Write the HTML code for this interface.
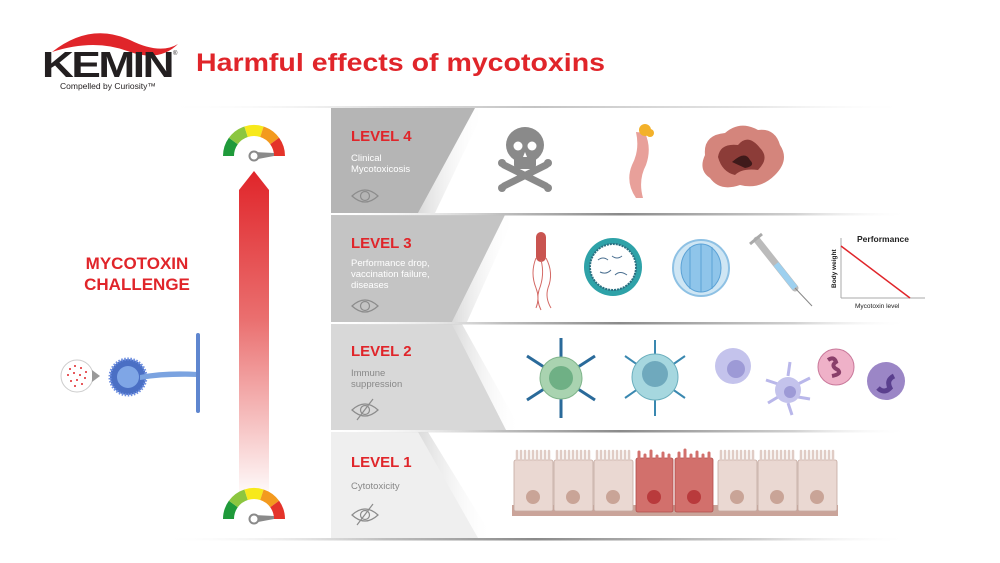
<!DOCTYPE html>
<html><head><meta charset="utf-8"><style>
html,body{margin:0;padding:0;background:#fff;}
svg{display:block;font-family:"Liberation Sans",sans-serif;}
</style></head><body>
<svg width="1000" height="563" viewBox="0 0 1000 563" xmlns="http://www.w3.org/2000/svg">
<defs>
<linearGradient id="arr" x1="0" y1="0" x2="0" y2="1">
<stop offset="0" stop-color="#e0252a"/><stop offset="0.45" stop-color="#ea6f6f"/><stop offset="1" stop-color="#ffffff"/>
</linearGradient>
<linearGradient id="sep" x1="0" y1="0" x2="1" y2="0">
<stop offset="0" stop-color="#fff" stop-opacity="0"/><stop offset="0.3" stop-color="#bdbdbd"/><stop offset="0.5" stop-color="#8a8a8a"/><stop offset="0.8" stop-color="#d0d0d0"/><stop offset="1" stop-color="#fff" stop-opacity="0"/>
</linearGradient>
<linearGradient id="sh" x1="0" y1="0" x2="1" y2="0">
<stop offset="0" stop-color="#999" stop-opacity="0.6"/><stop offset="1" stop-color="#fff" stop-opacity="0"/>
</linearGradient>
<g id="gauge">
<path d="M-31,0 A31,31 0 0 1 -25.1,-18.2 L-16.2,-11.8 A20,20 0 0 0 -20,0Z" fill="#1f9a3a"/>
<path d="M-25.1,-18.2 A31,31 0 0 1 -9.6,-29.5 L-6.2,-19 A20,20 0 0 0 -16.2,-11.8Z" fill="#8cc63f"/>
<path d="M-9.6,-29.5 A31,31 0 0 1 9.6,-29.5 L6.2,-19 A20,20 0 0 0 -6.2,-19Z" fill="#f7e91b"/>
<path d="M9.6,-29.5 A31,31 0 0 1 25.1,-18.2 L16.2,-11.8 A20,20 0 0 0 6.2,-19Z" fill="#f39a1e"/>
<path d="M25.1,-18.2 A31,31 0 0 1 31,0 L20,0 A20,20 0 0 0 16.2,-11.8Z" fill="#e4332a"/>
<path d="M-1,-4 L20,-3 L20,0 L-1,4Z" fill="#8a8a8a"/>
<circle cx="0" cy="0" r="4.5" fill="#fff" stroke="#8a8a8a" stroke-width="2"/>
</g>
<g id="eye"><path d="M-13,0 Q0,-12 13,0 Q0,12 -13,0Z" fill="none" stroke="#8c8c8c" stroke-width="1.2"/><circle r="4.5" fill="none" stroke="#8c8c8c" stroke-width="1.2"/></g>
</defs>

<path d="M52,52 Q90,22 130,40 Q160,55 178,44 Q160,62 130,52 Q95,38 52,52Z" fill="#e0252a"/>
<text x="42" y="77" font-size="36" font-weight="bold" fill="#231f20" letter-spacing="-2" textLength="130" lengthAdjust="spacingAndGlyphs">KEMIN</text>
<text x="173" y="55" font-size="6" fill="#231f20">®</text>
<text x="60" y="89" font-size="8.5" fill="#231f20">Compelled by Curiosity™</text>
<text x="196" y="71" font-size="25" font-weight="bold" fill="#e0252a" textLength="409" lengthAdjust="spacingAndGlyphs">Harmful effects of mycotoxins</text>

<rect x="331" y="108" width="560" height="430" fill="#fff"/>
<polygon points="331,108 475,108 418,213 331,213" fill="#b5b5b5"/>
<polygon points="331,215 505,215 452,322 331,322" fill="#c4c4c4"/>
<polygon points="331,324 452,324 506,430 331,430" fill="#d8d8d8"/>
<polygon points="331,432 418,432 478,538 331,538" fill="#efefef"/>
<polygon points="418,213 475,108 485,108 435,213" fill="url(#sh)" opacity="0.6"/>
<polygon points="452,322 505,215 515,215 467,322" fill="url(#sh)" opacity="0.6"/>
<polygon points="506,430 452,324 462,324 521,430" fill="url(#sh)" opacity="0.6"/>
<polygon points="478,538 418,432 428,432 493,538" fill="url(#sh)" opacity="0.6"/>

<rect x="160" y="106" width="750" height="2" fill="url(#sep)" opacity="0.5"/>
<rect x="330" y="213" width="580" height="2.5" fill="url(#sep)"/>
<rect x="330" y="322" width="580" height="2.5" fill="url(#sep)"/>
<rect x="330" y="430" width="580" height="2.5" fill="url(#sep)"/>
<rect x="160" y="538" width="750" height="2.5" fill="url(#sep)"/>

<path d="M254,171 L269,190 L269,500 L239,500 L239,190Z" fill="url(#arr)"/>
<use href="#gauge" x="254" y="156"/>
<use href="#gauge" x="254" y="519"/>

<text x="137" y="269" font-size="17" font-weight="bold" fill="#e0252a" text-anchor="middle">MYCOTOXIN</text>
<text x="137" y="290" font-size="17" font-weight="bold" fill="#e0252a" text-anchor="middle">CHALLENGE</text>

<circle cx="77" cy="376" r="16" fill="#fff" stroke="#ccc" stroke-width="1"/>
<polygon points="92,370 100,376 92,382" fill="#999"/>
<g fill="#e0252a">
<circle cx="70" cy="369" r="1"/><circle cx="75" cy="366" r="1"/><circle cx="81" cy="368" r="1"/><circle cx="86" cy="372" r="1"/><circle cx="68" cy="375" r="1"/><circle cx="74" cy="373" r="1"/><circle cx="80" cy="375" r="1"/><circle cx="85" cy="378" r="1"/><circle cx="71" cy="381" r="1"/><circle cx="77" cy="380" r="1"/><circle cx="82" cy="384" r="1"/><circle cx="75" cy="386" r="1"/></g>
<circle cx="128" cy="377" r="18" fill="#4a6fc4" stroke="#6d8ee0" stroke-width="3" stroke-dasharray="1.5 1.5"/>
<circle cx="128" cy="377" r="11" fill="#7fa6e6"/>
<path d="M140,375 Q165,370 198,372 L198,377 Q165,376 140,380Z" fill="#7ba3e0"/>
<rect x="196" y="333" width="4" height="80" rx="2" fill="#5f86cf"/>

<g font-weight="bold" fill="#e0252a" font-size="15">
<text x="351" y="141">LEVEL 4</text><text x="351" y="248">LEVEL 3</text>
<text x="351" y="356">LEVEL 2</text><text x="351" y="467">LEVEL 1</text></g>
<g font-size="9.5" fill="#fff">
<text x="351" y="161">Clinical</text><text x="351" y="172">Mycotoxicosis</text>
<text x="351" y="266">Performance drop,</text><text x="351" y="277">vaccination failure,</text><text x="351" y="288">diseases</text></g>
<g font-size="9.5" fill="#888">
<text x="351" y="376">Immune</text><text x="351" y="387">suppression</text>
<text x="351" y="489">Cytotoxicity</text></g>
<use href="#eye" x="365" y="196"/><use href="#eye" x="365" y="306"/>
<use href="#eye" x="365" y="410"/><line x1="357" y1="420" x2="373" y2="399" stroke="#8c8c8c" stroke-width="1.2"/>
<use href="#eye" x="365" y="515"/><line x1="357" y1="525" x2="373" y2="504" stroke="#8c8c8c" stroke-width="1.2"/>

<!-- skull -->
<path d="M504,186 L546,165 M546,186 L504,165" stroke="#8a8a8a" stroke-width="7" stroke-linecap="round"/>
<circle cx="502" cy="163" r="4" fill="#8a8a8a"/><circle cx="548" cy="163" r="4" fill="#8a8a8a"/>
<circle cx="502" cy="188" r="4" fill="#8a8a8a"/><circle cx="548" cy="188" r="4" fill="#8a8a8a"/>
<ellipse cx="525" cy="145" rx="19" ry="18" fill="#8a8a8a"/><rect x="514" y="152" width="22" height="17" rx="4" fill="#8a8a8a"/>
<circle cx="518" cy="146" r="4.5" fill="#fff"/><circle cx="532" cy="146" r="4.5" fill="#fff"/>
<path d="M525,152 l-2,5 h4z" fill="#fff"/>

<path d="M636,132 Q640,150 632,165 Q625,182 636,198 L643,198 Q638,180 646,165 Q652,148 645,133Z" fill="#e8a09a"/>
<circle cx="645" cy="130" r="6" fill="#f3b12a"/><circle cx="650" cy="133" r="4" fill="#f3b12a"/>
<path d="M705,155 Q703,135 725,133 Q740,120 758,130 Q775,128 780,145 Q790,160 775,175 Q760,190 740,185 Q720,192 710,178 Q698,170 705,155Z" fill="#d4857c"/>
<path d="M718,157 Q720,143 738,145 Q748,133 760,148 Q770,158 758,170 Q742,168 735,175 Q722,172 718,157Z" fill="#8c3c38"/>
<path d="M732,162 Q745,150 750,160 Q756,166 745,168Z" fill="#3f1a1a"/>

<rect x="536" y="232" width="10" height="30" rx="5" fill="#c95450"/>
<path d="M536,258 q-6,15 0,30 q4,10 0,20 M541,260 q4,15 -2,30 q-3,10 2,20 M546,258 q8,15 2,30 q-3,10 3,20" fill="none" stroke="#d46a66" stroke-width="1"/>
<circle cx="613" cy="267" r="29" fill="#2ea2a8"/><circle cx="613" cy="267" r="23" fill="#fff" stroke="#2b6f80" stroke-width="2" stroke-dasharray="2 1"/>
<path d="M598,260 q5,-4 10,0 M612,256 q5,4 10,0 M600,272 q6,3 11,-2 M615,275 q5,-5 12,0" stroke="#4a6f90" fill="none" stroke-width="1"/>
<circle cx="701" cy="268" r="28" fill="#cfe6f4" stroke="#8ec1e4" stroke-width="2"/>
<ellipse cx="701" cy="268" rx="20" ry="24" fill="#8fc5ea" stroke="#5ba2d6"/>
<line x1="701" y1="244" x2="701" y2="292" stroke="#5ba2d6"/><line x1="690" y1="247" x2="690" y2="289" stroke="#5ba2d6"/><line x1="712" y1="247" x2="712" y2="289" stroke="#5ba2d6"/>
<path d="M757,240 L795,288" stroke="#bbb" stroke-width="7" stroke-linecap="round"/>
<path d="M776,264 L795,288" stroke="#9dd0ef" stroke-width="6"/>
<line x1="795" y1="288" x2="812" y2="306" stroke="#888" stroke-width="1"/>
<line x1="750" y1="244" x2="762" y2="234" stroke="#aaa" stroke-width="3"/>
<line x1="841" y1="298" x2="925" y2="298" stroke="#aaa" stroke-width="1"/>
<line x1="841" y1="238" x2="841" y2="298" stroke="#aaa" stroke-width="1"/>
<line x1="841" y1="246" x2="910" y2="298" stroke="#e0252a" stroke-width="1.5"/>
<text x="857" y="242" font-size="8.5" font-weight="bold" fill="#222">Performance</text>
<text x="855" y="308" font-size="6.5" fill="#222">Mycotoxin level</text>
<text transform="translate(836,288) rotate(-90)" font-size="6.5" font-weight="bold" fill="#222">Body weight</text>

<g stroke="#2a6a9a" stroke-width="3">
<line x1="561" y1="338" x2="561" y2="418"/><line x1="527" y1="356" x2="595" y2="400"/><line x1="595" y1="356" x2="527" y2="400"/></g>
<circle cx="561" cy="378" r="21" fill="#a9d3b0" stroke="#7fb48a"/><circle cx="561" cy="378" r="12" fill="#6fb085"/>
<g stroke="#3a88b0" stroke-width="2"><line x1="655" y1="340" x2="655" y2="416"/><line x1="625" y1="356" x2="685" y2="398"/><line x1="685" y1="356" x2="625" y2="398"/></g>
<circle cx="655" cy="377" r="23" fill="#a6d7df" stroke="#6aaebd"/><circle cx="655" cy="374" r="13" fill="#6fa9bd"/>
<circle cx="733" cy="366" r="18" fill="#c4c3ec"/><circle cx="736" cy="369" r="9" fill="#9d9ad6"/>
<path d="M788,376 l2,-14 M778,384 l-12,-4 M798,384 l12,-6 M778,397 l-10,6 M798,397 l12,2 M788,403 l4,12" stroke="#b9b7ea" stroke-width="3"/>
<circle cx="788" cy="390" r="13" fill="#c4c3ec"/><circle cx="790" cy="392" r="6" fill="#9d9ad6"/>
<circle cx="836" cy="367" r="18" fill="#efb1c8" stroke="#c9789a"/><path d="M828,360 q6,-4 8,2 q-6,4 2,8 q4,4 -6,6" stroke="#8a3f6a" stroke-width="4" fill="none"/>
<circle cx="886" cy="381" r="19" fill="#9b86c6"/><path d="M878,388 q6,6 12,0 q-4,-8 4,-12" stroke="#5a3f8e" stroke-width="5" fill="none"/>

<rect x="512" y="505" width="326" height="11" fill="#caa49a"/>
<g stroke="#c4a9a0" stroke-width="0.8">
<rect x="514" y="460" width="39" height="51" rx="2" fill="#ead8d2"/>
<rect x="554" y="460" width="39" height="51" rx="2" fill="#ead8d2"/>
<rect x="594" y="460" width="39" height="51" rx="2" fill="#ead8d2"/>
<rect x="636" y="458" width="37" height="54" rx="2" fill="#d2706c" stroke="#b24f4c"/>
<rect x="675" y="458" width="38" height="54" rx="2" fill="#d2706c" stroke="#b24f4c"/>
<rect x="718" y="460" width="39" height="51" rx="2" fill="#ead8d2"/>
<rect x="758" y="460" width="39" height="51" rx="2" fill="#ead8d2"/>
<rect x="798" y="460" width="39" height="51" rx="2" fill="#ead8d2"/>
</g>
<g stroke="#e0ccc5" stroke-width="2.5" stroke-linecap="round">
<path d="M517,460V451 M521,460V451 M525,460V451 M529,460V451 M533,460V451 M537,460V451 M541,460V451 M545,460V451 M549,460V451
M557,460V451 M561,460V451 M565,460V451 M569,460V451 M573,460V451 M577,460V451 M581,460V451 M585,460V451 M589,460V451
M597,460V451 M601,460V451 M605,460V451 M609,460V451 M613,460V451 M617,460V451 M621,460V451 M625,460V451 M629,460V451
M721,460V451 M725,460V451 M729,460V451 M733,460V451 M737,460V451 M741,460V451 M745,460V451 M749,460V451 M753,460V451
M761,460V451 M765,460V451 M769,460V451 M773,460V451 M777,460V451 M781,460V451 M785,460V451 M789,460V451 M793,460V451
M801,460V451 M805,460V451 M809,460V451 M813,460V451 M817,460V451 M821,460V451 M825,460V451 M829,460V451 M833,460V451"/></g>
<g stroke="#d2706c" stroke-width="3" stroke-linecap="round">
<path d="M639,460V452 M645,460V455 M651,460V451 M657,460V456 M663,460V453 M669,460V455 M679,460V453 M685,460V450 M691,460V455 M697,460V452 M703,460V455 M709,460V453"/></g>
<g fill="#c9a497"><circle cx="533" cy="497" r="7"/><circle cx="573" cy="497" r="7"/><circle cx="613" cy="497" r="7"/><circle cx="737" cy="497" r="7"/><circle cx="777" cy="497" r="7"/><circle cx="817" cy="497" r="7"/></g>
<g fill="#b93a3c"><circle cx="654" cy="497" r="7"/><circle cx="694" cy="497" r="7"/></g>
</svg>
</body></html>
